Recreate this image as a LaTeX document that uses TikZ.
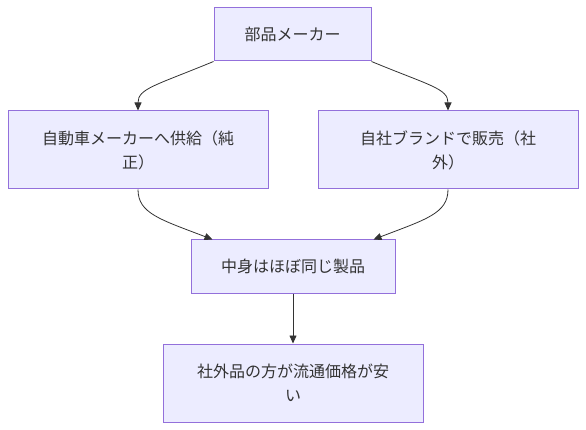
\documentclass[tikz,border=0pt]{standalone}
\usepackage{fontspec}
\setmainfont{Noto Sans CJK JP}
\usetikzlibrary{arrows.meta}
\definecolor{boxfill}{HTML}{ECECFF}
\definecolor{boxline}{HTML}{9370DB}
\definecolor{ink}{HTML}{333333}
\begin{document}
\begin{tikzpicture}[x=1pt,y=1pt,
  box/.style={draw=boxline,fill=boxfill,line width=1pt,text=ink,align=center,
    font=\fontsize{16}{24}\selectfont,inner sep=0pt},
  conn/.style={draw=ink,line width=0.8pt,-{Triangle[length=8pt,width=7pt]}}]
\useasboundingbox (0,0) rectangle (586,-430);
\node[box,minimum width=157pt,minimum height=53pt] (top) at (292.5,-34.5) {部品メーカー};
\node[box,minimum width=260pt,minimum height=78pt] (left) at (138,-150) {自動車メーカーへ供給（純\\正）};
\node[box,minimum width=260pt,minimum height=78pt] (right) at (448,-150) {自社ブランドで販売（社\\外）};
\node[box,minimum width=204pt,minimum height=53pt] (mid) at (293,-266.5) {中身はほぼ同じ製品};
\node[box,minimum width=260pt,minimum height=78pt] (bot) at (293,-383) {社外品の方が流通価格が安\\い};
\draw[conn] (top.south west) .. controls +(-58,-24) and +(0,22) .. (left.north);
\draw[conn] (top.south east) .. controls +(58,-24) and +(0,22) .. (right.north);
\draw[conn] (left.south) .. controls +(0,-24) and +(-52,20) .. ([xshift=22pt]mid.north west);
\draw[conn] (right.south) .. controls +(0,-24) and +(52,20) .. ([xshift=-22pt]mid.north east);
\draw[conn] (mid.south) -- (bot.north);
\end{tikzpicture}
\end{document}
